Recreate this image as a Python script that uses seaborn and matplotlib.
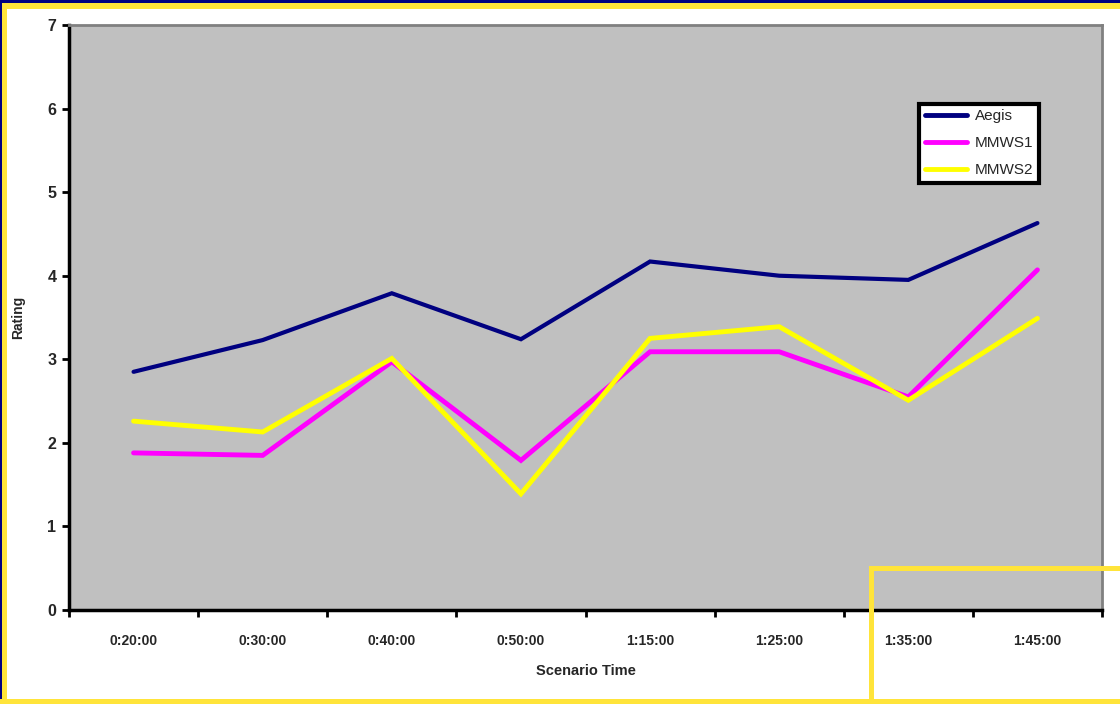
import matplotlib
matplotlib.use("Agg")
import matplotlib.pyplot as plt
import matplotlib.patches as mpatches
import seaborn as sns
import pandas as pd

# chart values
times = ["0:20:00", "0:30:00", "0:40:00", "0:50:00", "1:15:00", "1:25:00", "1:35:00", "1:45:00"]
aegis = [2.85, 3.23, 3.79, 3.24, 4.17, 4.00, 3.95, 4.63]
mmws1 = [1.88, 1.85, 2.97, 1.79, 3.09, 3.09, 2.55, 4.07]
mmws2 = [2.26, 2.13, 3.01, 1.39, 3.25, 3.39, 2.51, 3.49]
series = ["Aegis", "MMWS1", "MMWS2"]
colors = ["#000080", "#FF00FF", "#FFFF00"]

# long form table for seaborn
df = pd.DataFrame({
    "time": times * 3,
    "rating": aegis + mmws1 + mmws2,
    "series": [s for s in series for _ in times],
})
df["pos"] = [i for _ in series for i in range(len(times))]

sns.set_style("white")
plt.rcParams["font.family"] = ["Liberation Sans", "DejaVu Sans"]

fig = plt.figure(figsize=(11.2, 7.04), dpi=100)
ax = fig.add_axes([69 / 1120, 1 - 610 / 704, (1102 - 69) / 1120, (610 - 25) / 704])
ax.set_facecolor("#C0C0C0")

sns.lineplot(data=df, x="pos", y="rating", hue="series", hue_order=series,
             palette=colors, ax=ax, sort=False, legend=True)
for line, lw in zip(ax.lines, [3.0, 3.5, 3.5]):
    line.set_linewidth(lw)
    line.set_solid_joinstyle("miter")

ax.set_xlim(-0.5, len(times) - 0.5)
ax.set_ylim(0, 7)
ax.set_yticks(range(0, 8))
ax.set_xticks(range(len(times)))
ax.set_xticklabels(times, fontsize=10, fontweight="bold")
ax.set_xticks([i - 0.5 for i in range(len(times) + 1)], minor=True)
ax.tick_params(axis="x", which="major", bottom=True, length=0, pad=17)
ax.tick_params(axis="x", which="minor", bottom=True, length=5, width=2, color="black", direction="out")
ax.tick_params(axis="y", left=True, length=5, width=2, color="black", direction="out", pad=4)
for lab in ax.get_yticklabels():
    lab.set_fontweight("bold")
    lab.set_fontsize(11.5)

ax.set_xlabel("Scenario Time", fontsize=10.5, fontweight="bold", labelpad=12)
ax.set_ylabel("Rating", fontsize=10, fontweight="bold", labelpad=16)

for side in ["left", "bottom"]:
    ax.spines[side].set_color("black")
    ax.spines[side].set_linewidth(2.5)
for side in ["top", "right"]:
    ax.spines[side].set_color("#808080")
    ax.spines[side].set_linewidth(2)

leg = ax.legend(loc="upper left", bbox_to_anchor=(0.823, 0.865), fontsize=11,
                frameon=True, fancybox=False, handlelength=2.8, handletextpad=0.5,
                borderpad=0.35, labelspacing=0.85, borderaxespad=0)
leg.get_frame().set_edgecolor("black")
leg.get_frame().set_linewidth(3)
leg.get_frame().set_facecolor("white")
leg.get_frame().set_alpha(1)
for h in leg.get_lines():
    h.set_linewidth(3.5)

# slide frame: navy outer edge, yellow inner band
yel = "#FFE43A"
W, H = 1120, 704
def box(x0, y0, x1, y1, c):
    fig.patches.append(mpatches.Rectangle((x0 / W, 1 - y1 / H), (x1 - x0) / W, (y1 - y0) / H,
                                          transform=fig.transFigure, color=c, lw=0, zorder=5))
box(0, 0, W, 3, "#000080")
box(0, 3, W, 9, yel)
box(0, 0, 2, H, "#000080")
box(2, 3, 7, H, yel)
box(0, 699, W, H, yel)
# yellow overlay box in the bottom right
box(869, 566, W, 571, yel)
box(869, 566, 874, H, yel)

fig.savefig("out.png", dpi=100)
